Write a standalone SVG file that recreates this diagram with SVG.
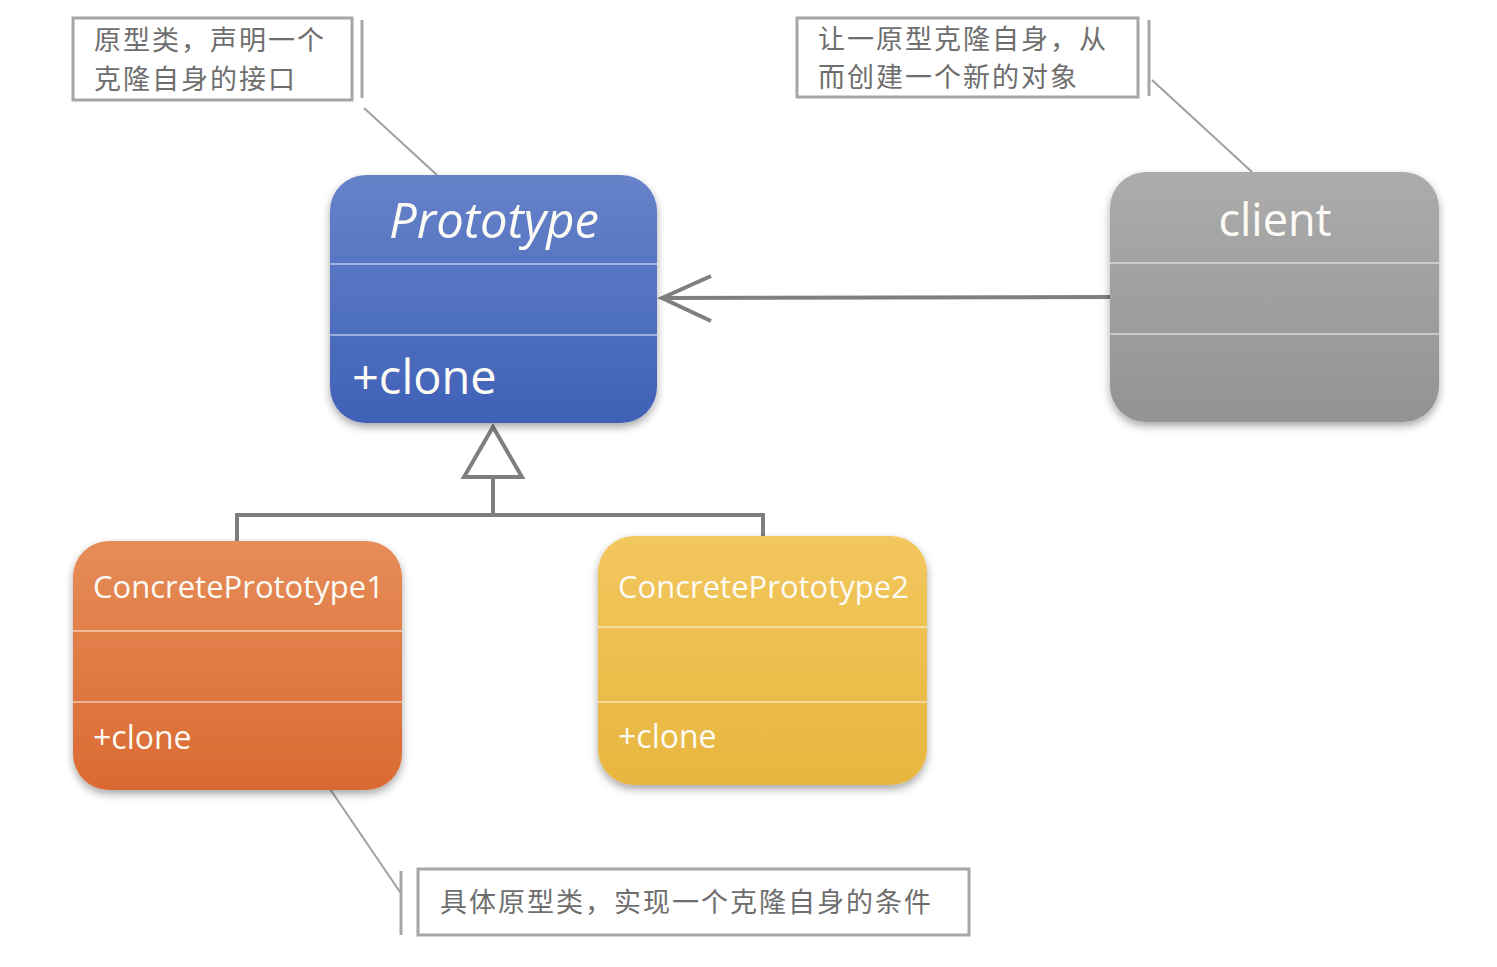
<svg xmlns="http://www.w3.org/2000/svg" width="1497" height="967" viewBox="0 0 1497 967">
<style>
.note{fill:#fff;stroke:#a6a6a6;stroke-width:3}
.ntxt{font-family:"Noto Sans CJK SC","Noto Sans",sans-serif;font-size:27px;letter-spacing:2px;fill:#6e6e6e}
.lead{stroke:#a0a0a0;stroke-width:2;fill:none}
.brk{stroke:#a6a6a6;stroke-width:3;fill:none}
.sep{stroke:#ffffff;stroke-opacity:0.6;stroke-width:1.5}
.ttl{font-family:"Open Sans","Noto Sans",sans-serif;fill:#fdfbf5}
.conn{stroke:#7f7f7f;stroke-width:4;fill:none}
</style>
<defs>
<linearGradient id="gBlue" x1="0" y1="0" x2="0" y2="1"><stop offset="0" stop-color="#6682c9"/><stop offset="1" stop-color="#3f61b7"/></linearGradient>
<linearGradient id="gGray" x1="0" y1="0" x2="0" y2="1"><stop offset="0" stop-color="#acacac"/><stop offset="1" stop-color="#939393"/></linearGradient>
<linearGradient id="gOrange" x1="0" y1="0" x2="0" y2="1"><stop offset="0" stop-color="#e68c58"/><stop offset="1" stop-color="#da6a32"/></linearGradient>
<linearGradient id="gYellow" x1="0" y1="0" x2="0" y2="1"><stop offset="0" stop-color="#f2c75e"/><stop offset="1" stop-color="#e7b63f"/></linearGradient>
<filter id="sh" x="-10%" y="-10%" width="120%" height="125%"><feDropShadow dx="0" dy="4" stdDeviation="4" flood-color="#000" flood-opacity="0.35"/></filter>
</defs>
<rect width="1497" height="967" fill="#fff"/>

<g id="note1">
<rect class="note" x="73" y="18" width="279" height="82"/>
<line class="brk" x1="362" y1="20" x2="362" y2="98"/>
<line class="lead" x1="364" y1="108" x2="437" y2="175"/>
<text class="ntxt" x="94" y="50">原型类，声明一个</text>
<text class="ntxt" x="94" y="89">克隆自身的接口</text>
</g>

<g id="note2">
<rect class="note" x="797" y="18" width="341" height="79"/>
<line class="brk" x1="1149" y1="20" x2="1149" y2="96"/>
<line class="lead" x1="1152" y1="80" x2="1252" y2="172"/>
<text class="ntxt" x="818" y="49">让一原型克隆自身，从</text>
<text class="ntxt" x="818" y="87">而创建一个新的对象</text>
</g>

<g id="note3">
<rect class="note" x="418" y="869" width="551" height="66"/>
<line class="brk" x1="401" y1="871" x2="401" y2="935"/>
<line class="lead" x1="330" y1="789" x2="400" y2="892"/>
<text class="ntxt" x="440" y="912">具体原型类，实现一个克隆自身的条件</text>
</g>

<g id="connectors">
<line class="conn" x1="1110" y1="297" x2="662" y2="298"/>
<polyline class="conn" points="711,276 662,298 711,321"/>
<polygon class="conn" points="493,427 464,477 522,477" fill="#fff"/>
<polyline class="conn" points="493,477 493,515"/>
<polyline class="conn" points="237,541 237,515 763,515 763,537"/>
</g>

<g id="prototype">
<rect x="330" y="175" width="327" height="248" rx="36" fill="url(#gBlue)" filter="url(#sh)"/>
<line class="sep" x1="330" y1="264" x2="657" y2="264"/>
<line class="sep" x1="330" y1="335" x2="657" y2="335"/>
<text class="ttl" x="494" y="238" font-size="49" font-style="italic" text-anchor="middle">Prototype</text>
<text class="ttl" x="352" y="394" font-size="47">+clone</text>
</g>

<g id="client">
<rect x="1110" y="172" width="329" height="250" rx="36" fill="url(#gGray)" filter="url(#sh)"/>
<line class="sep" x1="1110" y1="263" x2="1439" y2="263"/>
<line class="sep" x1="1110" y1="334" x2="1439" y2="334"/>
<text class="ttl" x="1275" y="236" font-size="45" text-anchor="middle">client</text>
</g>

<g id="concrete1">
<rect x="73" y="541" width="329" height="249" rx="36" fill="url(#gOrange)" filter="url(#sh)"/>
<line class="sep" x1="73" y1="631" x2="402" y2="631"/>
<line class="sep" x1="73" y1="702" x2="402" y2="702"/>
<text class="ttl" x="93" y="598" font-size="31">ConcretePrototype1</text>
<text class="ttl" x="93" y="749" font-size="32">+clone</text>
</g>

<g id="concrete2">
<rect x="598" y="536" width="329" height="249" rx="36" fill="url(#gYellow)" filter="url(#sh)"/>
<line class="sep" x1="598" y1="627" x2="927" y2="627"/>
<line class="sep" x1="598" y1="702" x2="927" y2="702"/>
<text class="ttl" x="618" y="598" font-size="31">ConcretePrototype2</text>
<text class="ttl" x="618" y="748" font-size="32">+clone</text>
</g>
</svg>
